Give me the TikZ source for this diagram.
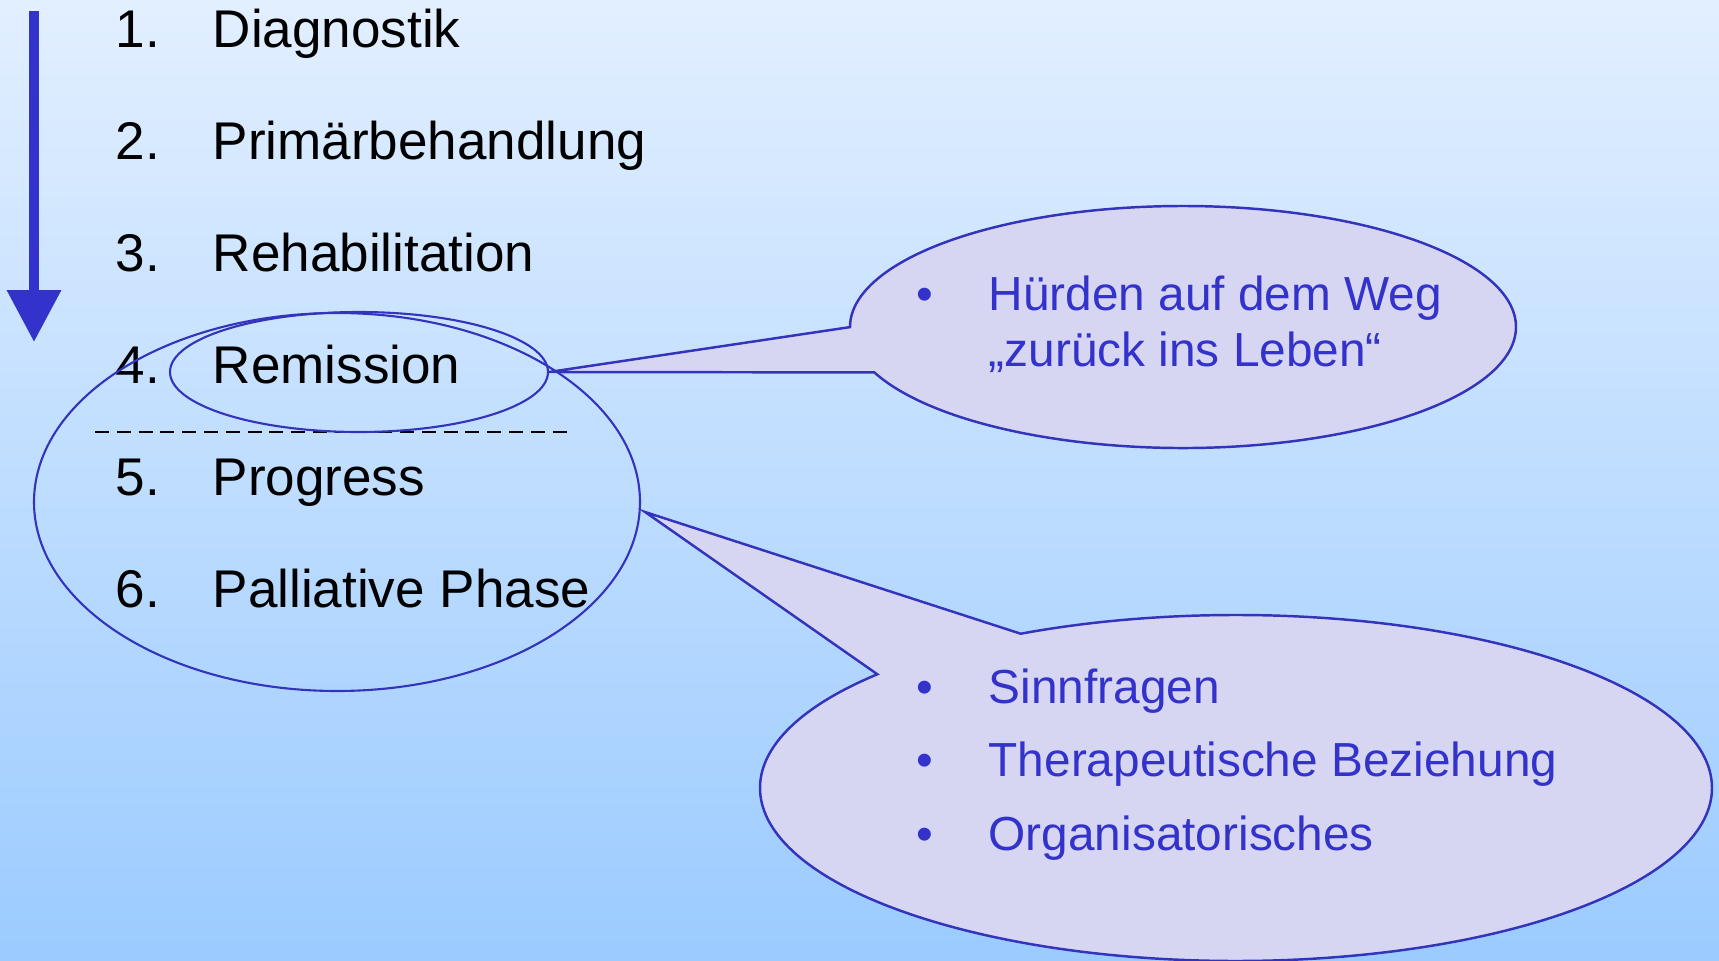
\documentclass[tikz,border=0pt]{standalone}
\usepackage{fontspec}
\setmainfont{Liberation Sans}
\usetikzlibrary{shapes.geometric,shapes.callouts,arrows.meta}

\begin{document}
\begin{tikzpicture}[
  phase/.style = {anchor = base west, inner sep = 0pt, text = black, font = \fontsize{15.1}{18}\selectfont},
  ring/.style = {ellipse, draw = ringblue, line width = 0.6pt, inner sep = 0pt},
  bubble/.style = {ellipse callout, draw = ringblue, fill = bubblefill, line width = 0.7pt, inner sep = 0pt, callout pointer arc = 22},
  note/.style = {anchor = base west, inner sep = 0pt, text = noteblue, font = \fontsize{13.6}{16}\selectfont}
]
\definecolor{bgtop}{RGB}{226,239,255}
\definecolor{bgbottom}{RGB}{155,203,255}
\definecolor{ringblue}{RGB}{51,51,187}
\definecolor{noteblue}{RGB}{51,51,204}
\definecolor{bubblefill}{RGB}{214,214,242}
\useasboundingbox (0,0) rectangle (17.19,9.6);
\shade[top color = bgtop, bottom color = bgbottom] (0,0) rectangle (17.19,9.6);
\draw[noteblue, line width = 0.1cm, -{Triangle[length = 0.52cm, width = 0.52cm]}] (0.34,9.49) -- (0.34,6.18);
\foreach \n/\txt in {1/Diagnostik, 2/Primärbehandlung, 3/Rehabilitation, 4/Remission, 5/Progress, 6/Palliative Phase} {
  \node[phase] (num\n) at (1.15,{9.13-1.12*(\n-1)}) {\n.};
  \node[phase] (txt\n) at (2.12,{9.13-1.12*(\n-1)}) {\txt};
}
\draw[black, line width = 0.5pt, dash pattern = on 4pt off 2.2pt] (0.95,5.28) -- (5.72,5.28);
\node[ring, minimum width = 3.78cm, minimum height = 1.2cm] (remring) at (3.59,5.88) {};
\node[ring, minimum width = 6.06cm, minimum height = 3.78cm] (phasering) at (3.37,4.58) {};
\node[bubble, minimum width = 6.66cm, minimum height = 2.42cm, callout absolute pointer = {(remring.east)}] (hurdles) at (11.83,6.33) {};
\node[bubble, minimum width = 9.52cm, minimum height = 3.46cm, callout absolute pointer = {([shift = {(0.04,-0.1)}]phasering.east)}] (topics) at (12.36,1.72) {};
\node[note] (hdot) at (9.16,6.50) {•};
\node[note] (hline1) at (9.88,6.50) {Hürden auf dem Weg};
\node[note] (hline2) at (9.88,5.94) {„zurück ins Leben“};
\foreach \n/\txt/\y in {1/Sinnfragen/2.57, 2/Therapeutische Beziehung/1.84, 3/Organisatorisches/1.10} {
  \node[note] (tdot\n) at (9.16,\y) {•};
  \node[note] (tline\n) at (9.88,\y) {\txt};
}
\end{tikzpicture}
\end{document}
